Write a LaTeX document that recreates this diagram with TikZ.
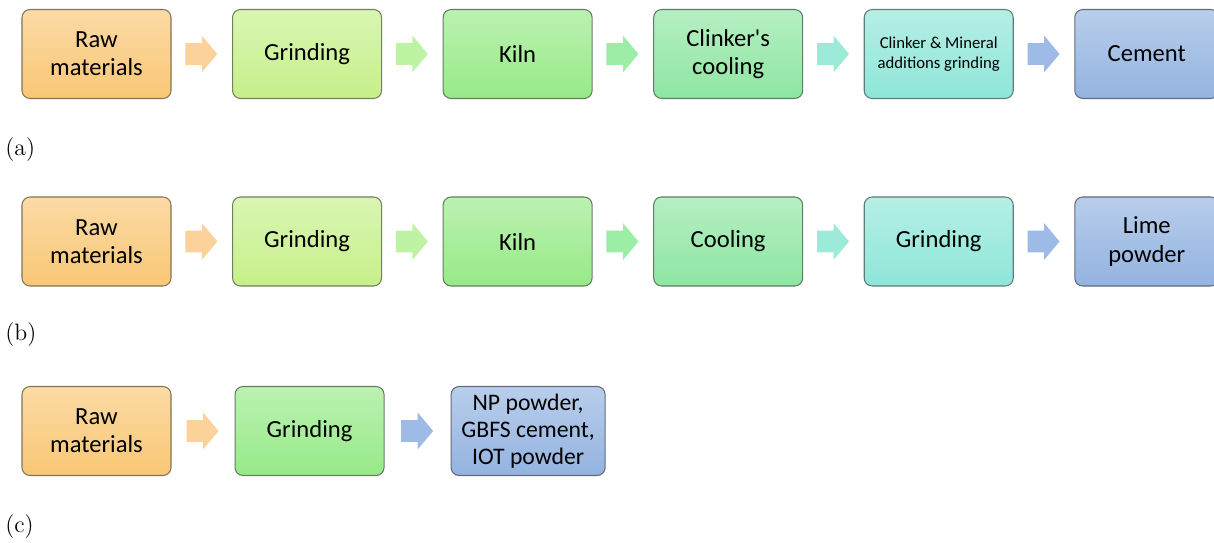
\documentclass[tikz,border=0pt]{standalone}
\usepackage{fontspec}
\newfontfamily\boxfont{Carlito}
\usetikzlibrary{positioning, shapes.arrows}

% stage colours (bottom of the gradient)
\definecolor{rawC}{HTML}{F9C775}
\definecolor{grindC}{HTML}{C6F08A}
\definecolor{kilnC}{HTML}{97EA88}
\definecolor{coolC}{HTML}{8EE6A2}
\definecolor{millC}{HTML}{8EE6D8}
\definecolor{prodC}{HTML}{93B3E0}
% arrow colours
\definecolor{arrRaw}{HTML}{FBD39A}
\definecolor{arrGrind}{HTML}{BDF3A3}
\definecolor{arrKiln}{HTML}{9CEDA6}
\definecolor{arrCool}{HTML}{9BEBD8}
\definecolor{arrProd}{HTML}{9DBBE6}

\tikzset{
    stage/.style={rectangle, rounded corners=0.16cm, draw=#1!40!black!80, line width=0.6pt,
        top color=#1!65!white, bottom color=#1, minimum width=2.98cm, minimum height=1.78cm,
        align=center, inner sep=2pt, font=\boxfont\fontsize{14}{16}\selectfont},
    flow/.style={single arrow, draw=none, fill=#1, inner sep=0pt, inner ysep=0.21cm,
        text height=0pt, text depth=0pt, minimum height=0.64cm, xshift=-0.1cm,
        single arrow head extend=0.15cm, single arrow tip angle=100},
    tag/.style={anchor=west, inner sep=0pt, font=\fontsize{13.5}{15}\selectfont},
    node distance=1.21cm
}

\begin{document}
\begin{tikzpicture}
    \useasboundingbox (0,0) rectangle (24.28,-10.86);

    % (a) cement
    \node[stage=rawC] (a1) at (1.93,-1.08) {Raw\\materials};
    \node[stage=grindC, right=of a1] (a2) {Grinding};
    \node[stage=kilnC, right=of a2] (a3) {Kiln};
    \node[stage=coolC, right=of a3] (a4) {Clinker's\\cooling};
    \node[stage=millC, right=of a4, font=\boxfont\fontsize{9.5}{11.5}\selectfont] (a5) {Clinker \& Mineral\\additions grinding};
    \node[stage=prodC, right=of a5, minimum width=2.88cm] (a6) {Cement};
    \path (a1.east) -- node[flow=arrRaw] {} (a2.west);
    \path (a2.east) -- node[flow=arrGrind] {} (a3.west);
    \path (a3.east) -- node[flow=arrKiln] {} (a4.west);
    \path (a4.east) -- node[flow=arrCool] {} (a5.west);
    \path (a5.east) -- node[flow=arrProd] {} (a6.west);
    \node[tag] (tagA) at (0.1,-3.0) {(a)};

    % (b) lime
    \node[stage=rawC] (b1) at (1.93,-4.83) {Raw\\materials};
    \node[stage=grindC, right=of b1] (b2) {Grinding};
    \node[stage=kilnC, right=of b2] (b3) {Kiln};
    \node[stage=coolC, right=of b3] (b4) {Cooling};
    \node[stage=millC, right=of b4] (b5) {Grinding};
    \node[stage=prodC, right=of b5, minimum width=2.88cm] (b6) {Lime\\powder};
    \path (b1.east) -- node[flow=arrRaw] {} (b2.west);
    \path (b2.east) -- node[flow=arrGrind] {} (b3.west);
    \path (b3.east) -- node[flow=arrKiln] {} (b4.west);
    \path (b4.east) -- node[flow=arrCool] {} (b5.west);
    \path (b5.east) -- node[flow=arrProd] {} (b6.west);
    \node[tag] (tagB) at (0.1,-6.7) {(b)};

    % (c) powders
    \node[stage=rawC] (c1) at (1.93,-8.62) {Raw\\materials};
    \node[stage=kilnC, right=1.26cm of c1] (c2) {Grinding};
    \node[stage=prodC, right=1.32cm of c2, minimum width=3.08cm,
          font=\boxfont\fontsize{13.5}{15.5}\selectfont] (c3) {NP powder,\\GBFS cement,\\IOT powder};
    \path (c1.east) -- node[flow=arrRaw] {} (c2.west);
    \path (c2.east) -- node[flow=arrProd] {} (c3.west);
    \node[tag] (tagC) at (0.1,-10.54) {(c)};
\end{tikzpicture}
\end{document}
